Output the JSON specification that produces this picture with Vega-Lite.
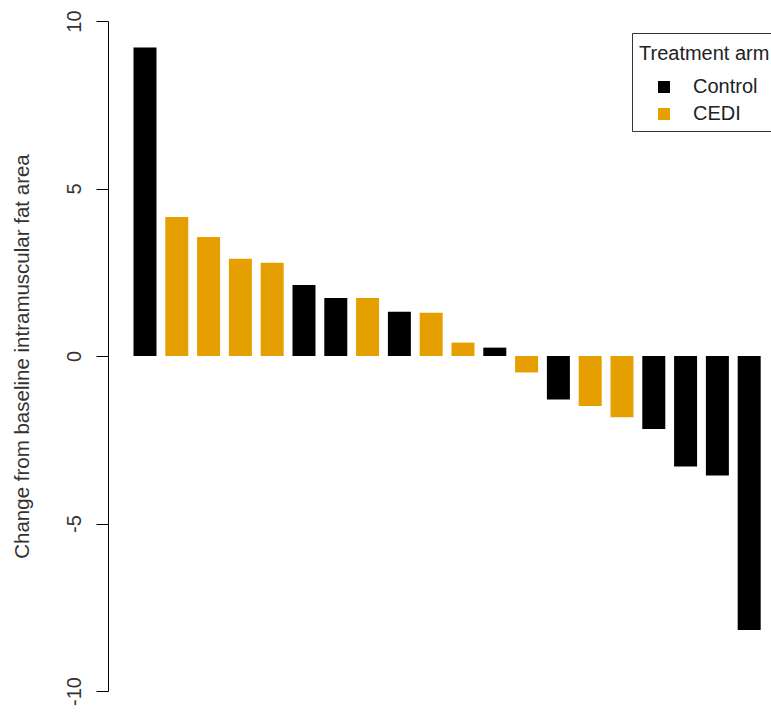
{
  "$schema": "https://vega.github.io/schema/vega-lite/v6.json",
  "width": 663,
  "height": 670,
  "autosize": "none",
  "padding": {"left": 108, "top": 21, "right": 0, "bottom": 26},
  "background": "white",
  "config": {"view": {"stroke": null}, "font": "Liberation Sans"},
  "data": {
    "values": [
      {"id": 1, "arm": "Control", "change": 9.21},
      {"id": 2, "arm": "CEDI", "change": 4.15},
      {"id": 3, "arm": "CEDI", "change": 3.55},
      {"id": 4, "arm": "CEDI", "change": 2.9},
      {"id": 5, "arm": "CEDI", "change": 2.78},
      {"id": 6, "arm": "Control", "change": 2.12},
      {"id": 7, "arm": "Control", "change": 1.73},
      {"id": 8, "arm": "CEDI", "change": 1.73},
      {"id": 9, "arm": "Control", "change": 1.32},
      {"id": 10, "arm": "CEDI", "change": 1.29},
      {"id": 11, "arm": "CEDI", "change": 0.4},
      {"id": 12, "arm": "Control", "change": 0.25},
      {"id": 13, "arm": "CEDI", "change": -0.49},
      {"id": 14, "arm": "Control", "change": -1.3},
      {"id": 15, "arm": "CEDI", "change": -1.49},
      {"id": 16, "arm": "CEDI", "change": -1.83},
      {"id": 17, "arm": "Control", "change": -2.18},
      {"id": 18, "arm": "Control", "change": -3.3},
      {"id": 19, "arm": "Control", "change": -3.57},
      {"id": 20, "arm": "Control", "change": -8.18}
    ]
  },
  "mark": {"type": "bar"},
  "encoding": {
    "x": {
      "field": "id",
      "type": "ordinal",
      "axis": null,
      "scale": {"paddingInner": 0.277, "paddingOuter": 0.563, "align": 0.712}
    },
    "y": {
      "field": "change",
      "type": "quantitative",
      "scale": {"domain": [-10, 10], "nice": false, "zero": true},
      "axis": {
        "title": "Change from baseline intramuscular fat area",
        "values": [-10, -5, 0, 5, 10],
        "labelExpr": "'' + datum.value",
        "grid": false,
        "domainColor": "black",
        "tickColor": "black",
        "tickSize": 12,
        "labelAngle": -90,
        "labelAlign": "center",
        "labelBaseline": "alphabetic",
        "labelPadding": 16,
        "labelFontSize": 20,
        "labelColor": "#333",
        "titleFontSize": 20.5,
        "titleFontWeight": "normal",
        "titleColor": "#333",
        "titleX": -86,
        "titleY": 335,
        "titleAngle": -90,
        "titleBaseline": "middle",
        "titleAlign": "center"
      }
    },
    "color": {
      "field": "arm",
      "type": "nominal",
      "scale": {"domain": ["Control", "CEDI"], "range": ["black", "#E69F00"]},
      "legend": {
        "title": "Treatment arm",
        "orient": "none",
        "legendX": 524,
        "legendY": 12,
        "direction": "vertical",
        "strokeColor": "#333",
        "fillColor": "white",
        "padding": 7,
        "titleFontSize": 20,
        "titleFontWeight": "normal",
        "titleColor": "#222",
        "titleBaseline": "line-top",
        "titleLineHeight": 28,
        "titlePadding": 17,
        "labelFontSize": 20,
        "labelColor": "#222",
        "symbolType": "square",
        "symbolSize": 144,
        "symbolOffset": 15,
        "symbolStrokeWidth": 0,
        "rowPadding": 7,
        "labelOffset": 19
      }
    }
  }
}
